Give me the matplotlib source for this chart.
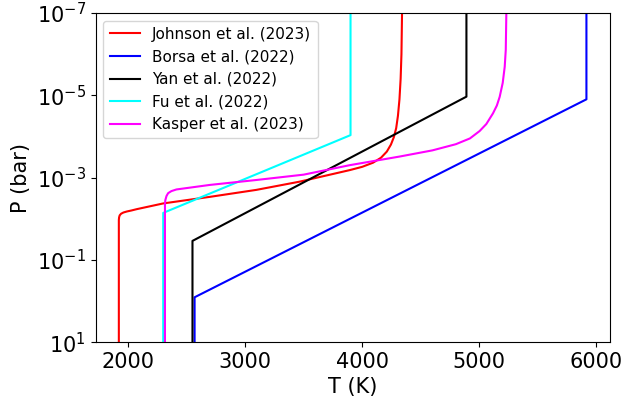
import numpy as np
import matplotlib
matplotlib.use("Agg")
import matplotlib.pyplot as plt

# Johnson et al. (2023)
johnson_T = [1921, 1921, 1923, 1928, 1940, 1960, 1990, 2030, 2072, 2299, 2698, 3096, 3466, 3893, 4000, 4092, 4160, 4210, 4245, 4270, 4290, 4305, 4318, 4328, 4335, 4340]
johnson_logP = [1, -1.97, -2.03, -2.08, -2.12, -2.15, -2.175, -2.20, -2.23, -2.37, -2.53, -2.70, -2.90, -3.18, -3.26, -3.36, -3.48, -3.63, -3.80, -3.98, -4.20, -4.50, -4.90, -5.40, -6.00, -7]

# Borsa et al. (2022)
borsa_T = [2568, 2568, 5915, 5915]
borsa_logP = [1, -0.09, -4.90, -7]

# Yan et al. (2022)
yan_T = [2550, 2550, 4890, 4890]
yan_logP = [1, -1.46, -4.965, -7]

# Fu et al. (2022)
fu_T = [2300, 2300, 3900, 3900]
fu_logP = [1, -2.14, -4.03, -7]

# Kasper et al. (2023)
kasper_T = [2315, 2315, 2318, 2328, 2342, 2370, 2413, 2698, 3096, 3500, 3893, 4320, 4600, 4800, 4920, 5003, 5060, 5117, 5150, 5174, 5200, 5217, 5226, 5231]
kasper_logP = [1, -2.33, -2.45, -2.55, -2.62, -2.67, -2.71, -2.82, -2.94, -3.07, -3.30, -3.51, -3.66, -3.81, -3.95, -4.13, -4.30, -4.56, -4.75, -4.96, -5.30, -5.69, -6.10, -7]

series = [
    ("Johnson et al. (2023)", johnson_T, johnson_logP, "red"),
    ("Borsa et al. (2022)", borsa_T, borsa_logP, "blue"),
    ("Yan et al. (2022)", yan_T, yan_logP, "black"),
    ("Fu et al. (2022)", fu_T, fu_logP, "cyan"),
    ("Kasper et al. (2023)", kasper_T, kasper_logP, "magenta"),
]

fig = plt.figure(figsize=(6.26, 4.03), dpi=100)
ax = fig.add_axes([0.153, 0.151, 0.974 - 0.153, 0.968 - 0.151])

for label, T, logP, color in series:
    ax.plot(T, 10.0 ** np.array(logP), color=color, lw=1.5, label=label)

ax.set_yscale("log")
ax.set_ylim(10, 1e-7)
ax.set_xlim(1724, 6114)
ax.set_yticks([1e1, 1e-1, 1e-3, 1e-5, 1e-7])
ax.minorticks_off()
ax.set_xticks([2000, 3000, 4000, 5000, 6000])
ax.tick_params(labelsize=15)
ax.set_xlabel("T (K)", fontsize=15)
ax.set_ylabel("P (bar)", fontsize=15)
ax.legend(loc="upper left", fontsize=11)

fig.savefig("out.png", dpi=100)
